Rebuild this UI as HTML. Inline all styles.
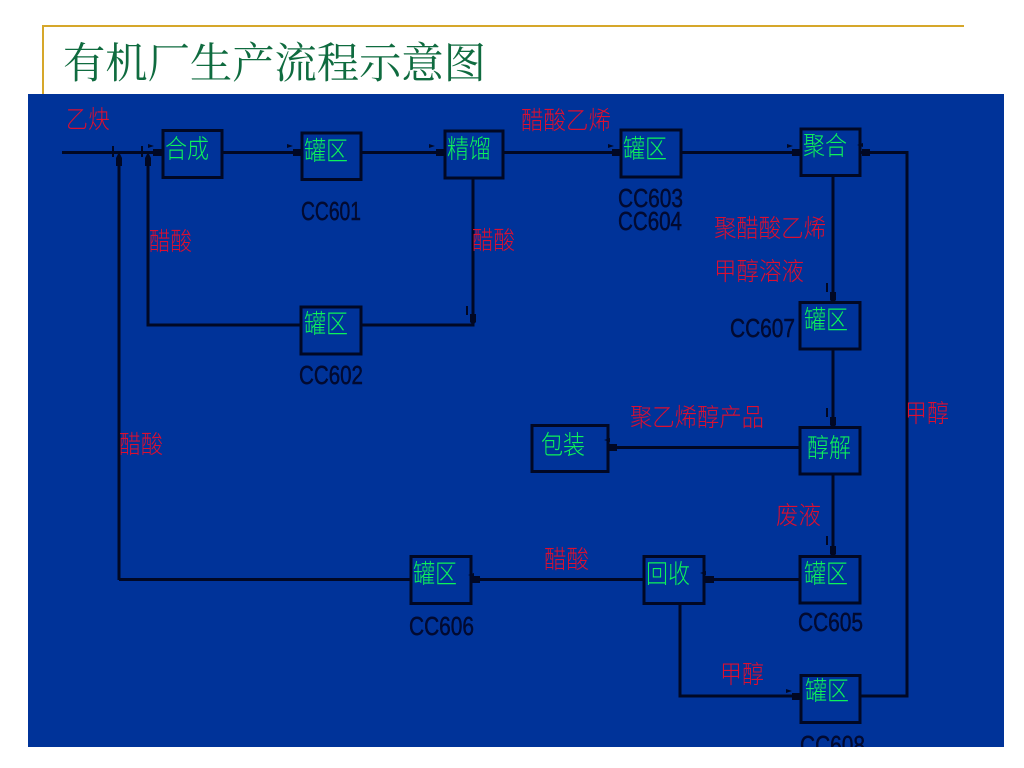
<!DOCTYPE html>
<html lang="zh"><head><meta charset="utf-8"><title>有机厂生产流程示意图</title>
<style>
html,body{margin:0;padding:0;background:#fff}
svg{display:block}
.t{font-family:"Liberation Serif","Noto Serif CJK SC",serif}
.g{font-family:"Liberation Sans","Noto Sans CJK SC",sans-serif;font-size:26px;font-weight:300;fill:#0df25a}
.r{font-family:"Liberation Sans","Noto Sans CJK SC",sans-serif;font-size:25px;font-weight:300;fill:#dc0f30}
.c{font-family:"Liberation Sans",sans-serif;font-size:26px;fill:#020a30;stroke:#020a30;stroke-width:.5}
.b{fill:none;stroke:#010824;stroke-width:3}
.l{fill:none;stroke:#010824;stroke-width:3}
.a{fill:#010824}
</style></head>
<body>
<svg width="1024" height="768" viewBox="0 0 1024 768" xmlns="http://www.w3.org/2000/svg">
<rect width="1024" height="768" fill="#fff"/>
<path d="M964 26H43V95" fill="none" stroke="#d6a72a" stroke-width="2"/>
<text class="t" x="63" y="78" font-size="42.5" fill="#0f6b3f" textLength="423" lengthAdjust="spacingAndGlyphs">有机厂生产流程示意图</text>
<rect x="28" y="94" width="976" height="653" fill="#003399"/>

<path class="l" d="M62 152.500H162M222 152.500H302M362 152.500H445M503 152.500H621M681 152.500H801"/>
<path class="l" d="M119 580V158M148 158V325H301M361 325H473V178"/>
<path class="l" d="M861 152.500H907V696H861M833 176V302M833 349V427M833 474V556"/>
<path class="l" d="M800 447.500H608M800 579.500H704M644 579.500H472M411 579.500H119M680 604V696H801"/>

<rect class="b" x="163" y="130.500" width="59" height="47"/>
<rect class="b" x="302" y="133" width="59" height="46.500"/>
<rect class="b" x="445" y="131" width="58" height="47"/>
<rect class="b" x="621" y="130" width="60" height="47"/>
<rect class="b" x="801" y="129" width="59" height="46.500"/>
<rect class="b" x="301" y="307" width="60" height="47"/>
<rect class="b" x="800" y="302.500" width="60" height="46.500"/>
<rect class="b" x="800" y="427.500" width="60" height="46.500"/>
<rect class="b" x="532" y="425.500" width="76" height="46"/>
<rect class="b" x="800" y="556.500" width="60" height="46.500"/>
<rect class="b" x="644" y="556.500" width="60" height="47"/>
<rect class="b" x="411" y="556.500" width="60" height="47"/>
<rect class="b" x="801" y="675.500" width="59" height="47"/>

<g class="a">
<path d="M153 149h9v7h-9zM293 149h9v7h-9zM436 149h9v7h-9zM612 149h9v7h-9zM792 149h9v7h-9zM792 693h9v7h-9z"/>
<path d="M862 149h8v7h-8zM705 576h9v7h-9zM609 444h8v7h-8zM472 576h8v7h-8z"/>
<path d="M116 158l3-6 3 6v8h-6zM145 158l3-6 3 6v8h-6z"/>
<path d="M830 292h6v8l-3 3-3-3zM830 417h6v8l-3 3-3-3zM830 546h6v8l-3 3-3-3zM470 314h6v8l-3 3-3-3z"/>
<path d="M112 146h2v11h-2zM141 146h2v11h-2zM826 283h2v9h-2zM826 408h2v9h-2zM826 536h2v9h-2zM466 306h2v9h-2z"/>
<path d="M148 144l6 2-6 2zM287 144l6 2-6 2zM429 144l6 2-6 2zM608 144l6 2-6 2zM787 144l6 2-6 2zM786 689l6 2-6 2zM857 145l6-2v4zM700 573l6-2v4zM604 440l6-2v4zM468 575l6-2v4z"/>
</g>

<g class="g">
<text x="165" y="158" textLength="44" lengthAdjust="spacingAndGlyphs">合成</text>
<text x="304" y="160" textLength="44" lengthAdjust="spacingAndGlyphs">罐区</text>
<text x="447" y="158" textLength="44" lengthAdjust="spacingAndGlyphs">精馏</text>
<text x="623" y="158" textLength="44" lengthAdjust="spacingAndGlyphs">罐区</text>
<text x="803" y="155" textLength="44" lengthAdjust="spacingAndGlyphs">聚合</text>
<text x="304" y="333" textLength="44" lengthAdjust="spacingAndGlyphs">罐区</text>
<text x="804" y="329" textLength="44" lengthAdjust="spacingAndGlyphs">罐区</text>
<text x="807" y="457" textLength="44" lengthAdjust="spacingAndGlyphs">醇解</text>
<text x="541" y="454" textLength="44" lengthAdjust="spacingAndGlyphs">包装</text>
<text x="804" y="583" textLength="44" lengthAdjust="spacingAndGlyphs">罐区</text>
<text x="646" y="583" textLength="44" lengthAdjust="spacingAndGlyphs">回收</text>
<text x="413" y="583" textLength="44" lengthAdjust="spacingAndGlyphs">罐区</text>
<text x="805" y="700" textLength="44" lengthAdjust="spacingAndGlyphs">罐区</text>
</g>

<g class="r">
<text x="66" y="128" textLength="44" lengthAdjust="spacingAndGlyphs">乙炔</text>
<text x="521" y="129" textLength="90" lengthAdjust="spacingAndGlyphs">醋酸乙烯</text>
<text x="149" y="250" textLength="43" lengthAdjust="spacingAndGlyphs">醋酸</text>
<text x="472" y="249" textLength="43" lengthAdjust="spacingAndGlyphs">醋酸</text>
<text x="714" y="237" textLength="112" lengthAdjust="spacingAndGlyphs">聚醋酸乙烯</text>
<text x="714" y="280" textLength="90" lengthAdjust="spacingAndGlyphs">甲醇溶液</text>
<text x="630" y="426" textLength="134" lengthAdjust="spacingAndGlyphs">聚乙烯醇产品</text>
<text x="905" y="422" textLength="44" lengthAdjust="spacingAndGlyphs">甲醇</text>
<text x="119" y="453" textLength="44" lengthAdjust="spacingAndGlyphs">醋酸</text>
<text x="776" y="524" textLength="45" lengthAdjust="spacingAndGlyphs">废液</text>
<text x="544" y="568" textLength="45" lengthAdjust="spacingAndGlyphs">醋酸</text>
<text x="720" y="683" textLength="44" lengthAdjust="spacingAndGlyphs">甲醇</text>
</g>

<g class="c">
<text x="301" y="220" textLength="60" lengthAdjust="spacingAndGlyphs">CC601</text>
<text x="618" y="207" textLength="65" lengthAdjust="spacingAndGlyphs">CC603</text>
<text x="618" y="230" textLength="64" lengthAdjust="spacingAndGlyphs">CC604</text>
<text x="299" y="384" textLength="64" lengthAdjust="spacingAndGlyphs">CC602</text>
<text x="730" y="337" textLength="65" lengthAdjust="spacingAndGlyphs">CC607</text>
<text x="409" y="635" textLength="65" lengthAdjust="spacingAndGlyphs">CC606</text>
<text x="798" y="631" textLength="65" lengthAdjust="spacingAndGlyphs">CC605</text>
<text x="800" y="754" textLength="65" lengthAdjust="spacingAndGlyphs">CC608</text>
</g>
<rect x="0" y="747" width="1024" height="21" fill="#fff"/>
</svg>
</body></html>
